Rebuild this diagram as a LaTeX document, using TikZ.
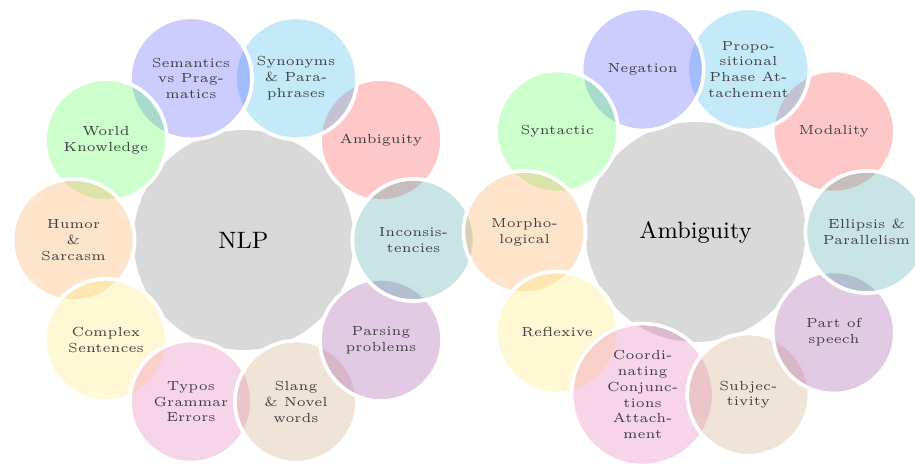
\documentclass[tikz,border=0pt]{standalone}
\definecolor{tintred}{RGB}{255,72,72}
\definecolor{tintcyan}{RGB}{58,185,238}
\definecolor{tintblue}{RGB}{85,85,255}
\definecolor{tintgreen}{RGB}{85,255,85}
\definecolor{tintorange}{RGB}{255,165,85}
\definecolor{tintyellow}{RGB}{255,232,112}
\definecolor{tintpink}{RGB}{232,112,178}
\definecolor{tintbrown}{RGB}{205,165,125}
\definecolor{tintviolet}{RGB}{158,78,165}
\definecolor{tintteal}{RGB}{72,165,165}
\begin{document}
\begin{tikzpicture}
	[x=0.38pt,y=0.38pt,
	every node/.style={circle,inner sep=0pt,align=center},
	hub/.style={fill=gray!30,minimum size=83.6pt,font=\small},
	bubble/.style={minimum size=46.4pt,draw=white,line width=1.4pt,fill opacity=0.3,text opacity=1,text=black!75,font=\tiny},
	big bubble/.style={bubble,minimum size=54pt}
	]
	\useasboundingbox (0,-464) rectangle (915,0);
	\clip (0,-464) rectangle (915,0);
	\node[hub] (nlp) at (243.5,-240) {NLP};
	\node[bubble,fill=tintred] (nlp1) at ([shift={(36:170)}]nlp.center) {Ambiguity};
	\node[bubble,fill=tintcyan] (nlp2) at ([shift={(72:170)}]nlp.center) {Synonyms\\\& Para-\\phrases};
	\node[bubble,fill=tintblue] (nlp3) at ([shift={(108:170)}]nlp.center) {Semantics\\vs Prag-\\matics};
	\node[bubble,fill=tintgreen] (nlp4) at ([shift={(144:170)}]nlp.center) {World\\Knowledge};
	\node[bubble,fill=tintorange] (nlp5) at ([shift={(180:170)}]nlp.center) {Humor\\\&\\Sarcasm};
	\node[bubble,fill=tintyellow] (nlp6) at ([shift={(216:170)}]nlp.center) {Complex\\Sentences};
	\node[bubble,fill=tintpink] (nlp7) at ([shift={(252:170)}]nlp.center) {Typos\\Grammar\\Errors};
	\node[bubble,fill=tintbrown] (nlp8) at ([shift={(288:170)}]nlp.center) {Slang\\\& Novel\\words};
	\node[bubble,fill=tintviolet] (nlp9) at ([shift={(324:170)}]nlp.center) {Parsing\\problems};
	\node[bubble,fill=tintteal] (nlp10) at ([shift={(360:170)}]nlp.center) {Inconsis-\\tencies};
	\node[hub] (amb) at (695.5,-232) {Ambiguity};
	\node[bubble,fill=tintred] (amb1) at ([shift={(36:171)}]amb.center) {Modality};
	\node[bubble,fill=tintcyan] (amb2) at ([shift={(72:171)}]amb.center) {Propo-\\sitional\\Phase At-\\tachement};
	\node[bubble,fill=tintblue] (amb3) at ([shift={(108:171)}]amb.center) {Negation};
	\node[bubble,fill=tintgreen] (amb4) at ([shift={(144:171)}]amb.center) {Syntactic};
	\node[bubble,fill=tintorange] (amb5) at ([shift={(180:171)}]amb.center) {Morpho-\\logical};
	\node[bubble,fill=tintyellow] (amb6) at ([shift={(216:171)}]amb.center) {Reflexive};
	\node[big bubble,fill=tintpink] (amb7) at ([shift={(252:171)}]amb.center) {Coordi-\\nating\\Conjunc-\\tions\\Attach-\\ment};
	\node[bubble,fill=tintbrown] (amb8) at ([shift={(288:171)}]amb.center) {Subjec-\\tivity};
	\node[bubble,fill=tintviolet] (amb9) at ([shift={(324:171)}]amb.center) {Part of\\speech};
	\node[bubble,fill=tintteal] (amb10) at ([shift={(360:171)}]amb.center) {Ellipsis \&\\Parallelism};
\end{tikzpicture}
\end{document}
